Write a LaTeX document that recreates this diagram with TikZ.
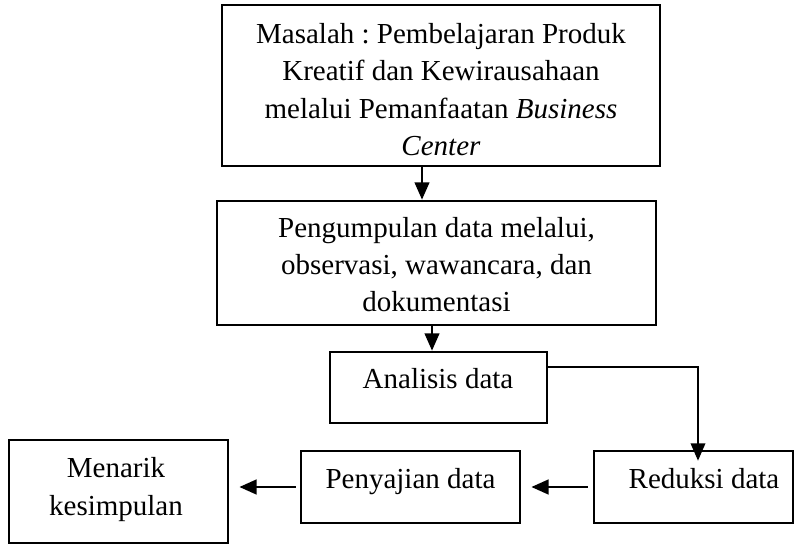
\documentclass[tikz,border=0pt]{standalone}
\usepackage{fontspec}
\setmainfont{Liberation Serif}
\usetikzlibrary{arrows.meta}
\begin{document}
\frenchspacing
\begin{tikzpicture}[x=0.75pt,y=-0.75pt,
  box/.style={draw=black, line width=2pt, rectangle, inner sep=0pt},
  txt/.style={inner sep=0pt, align=center, anchor=base, font=\fontsize{21.75}{28.1}\selectfont},
  arr/.style={line width=1.6pt, -{Triangle[length=13pt,width=11pt]}},
  harr/.style={line width=2pt, -{Triangle[length=13pt,width=11pt]}},
  thinarr/.style={line width=1pt, -{Triangle[length=13pt,width=11pt]}}]
\useasboundingbox (0,0) rectangle (807,545);
% boxes
\node[box, minimum width=438*0.75pt, minimum height=161*0.75pt] (b1) at (441,85.5) {};
\node[box, minimum width=439*0.75pt, minimum height=124*0.75pt] (b2) at (436.5,263) {};
\node[box, minimum width=217*0.75pt, minimum height=71*0.75pt] (b3) at (438.5,387.5) {};
\node[box, minimum width=199*0.75pt, minimum height=72*0.75pt] (b4) at (693.5,487) {};
\node[box, minimum width=219*0.75pt, minimum height=72*0.75pt] (b5) at (410.5,487) {};
\node[box, minimum width=219*0.75pt, minimum height=103*0.75pt] (b6) at (118.5,491.5) {};
% texts (base = baseline of last line)
\node[txt] (t1) at (441,155.5) {Masalah : Pembelajaran Produk\\Kreatif dan Kewirausahaan\\melalui Pemanfaatan \textit{Business}\\\textit{Center}};
\node[txt] (t2) at (436.5,312) {Pengumpulan data melalui,\\observasi, wawancara, dan\\dokumentasi};
\node[txt] (t3) at (438,388) {Analisis data};
\node[txt] (t4) at (704,488) {Reduksi data};
\node[txt] (t5) at (410.5,488) {Penyajian data};
\node[txt] (t6) at (116,515) {Menarik\\kesimpulan};
% connectors
\coordinate (c1) at (422,0);
\coordinate (c2) at (432,0);
\coordinate (turn) at (698,367);
\draw[arr] (b1.south -| c1) -- (b2.north -| c1);
\draw[arr] (b2.south -| c2) -- (b3.north -| c2);
\draw[thinarr, shorten >=-8.25pt] (b3.east |- turn) -- (turn) -- (b4.north -| turn);
\draw[harr, shorten <=3.75pt, shorten >=7.5pt] (b4.west) -- (b5.east);
\draw[harr, shorten <=3pt, shorten >=7.5pt] (b5.west) -- (b5.west -| b6.east);
\end{tikzpicture}
\end{document}
